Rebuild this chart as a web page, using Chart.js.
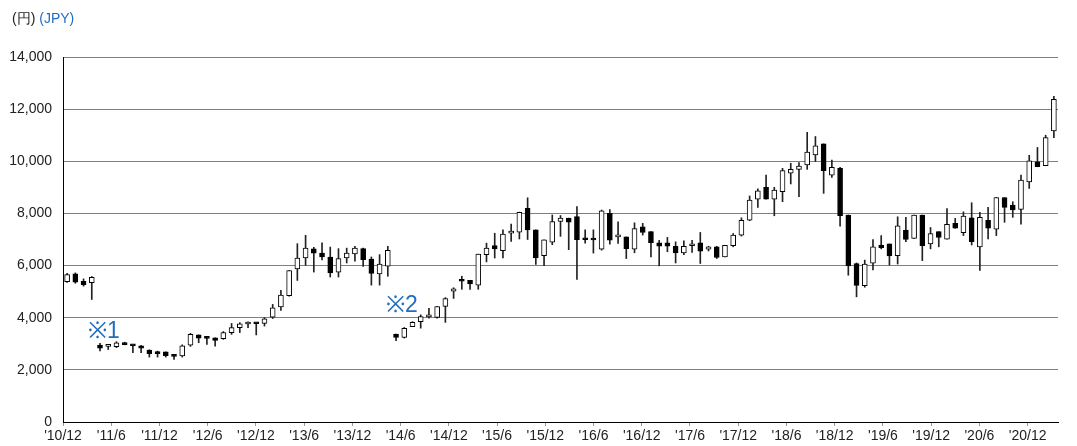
<!DOCTYPE html>
<html>
<head>
<meta charset="utf-8">
<script src="https://cdn.jsdelivr.net/npm/chart.js@4/dist/chart.umd.min.js"></script>
<style>
  body { margin: 0; background: #fff; font-family: "Liberation Sans", Arial, sans-serif; }
  #wrap { position: relative; width: 1077px; height: 446px; }
  .unit { position: absolute; left: 12px; top: 10px; font-size: 14px; color: #222; }
  .unit span { color: #1f6ec1; }
  .note { position: absolute; color: #1f6ec1; font-size: 23px; line-height: 26px; }
</style>
</head>
<body>
<div id="wrap">
  <canvas id="chart" width="1077" height="446"></canvas>
  <div class="unit">(円) <span>(JPY)</span></div>
  <div class="note" style="left:88px;top:317px">※1</div>
  <div class="note" style="left:386px;top:291px">※2</div>
</div>
<script>
// 月足 '10/12 〜 '20/12
const startYear = 2010, startMonth = 12;
const openV  = [5380,5680,5400,5340,2950,2900,2890,3040,2960,2920,2760,2640,2690,2590,2530,2950,3340,3260,3230,3200,
                3430,3620,3760,3790,3780,4020,4410,4850,5870,6290,6640,6480,6330,5750,6290,6450,6650,6250,5680,5975,
                3370,3240,3660,3850,4030,4010,4430,5020,5450,5430,5250,6420,6770,6570,7245,7280,8200,7370,6380,6900,
                7690,7820,7880,7010,7000,6630,8000,7100,7100,6630,7490,7300,6870,6870,6740,6490,6760,6870,6630,6720,
                6330,6760,7170,7740,8550,9000,8550,8830,9540,9690,9860,10240,10670,9470,9730,7940,6080,5230,6090,6790,
                6830,6380,7360,7040,7940,6830,7300,7010,7620,7260,7830,6720,7740,7400,8610,8320,8150,9210,9980,9830,
                11160];
const highV  = [5700,5720,5490,5580,3020,2980,3080,3060,2960,2940,2770,2720,2690,2590,2960,3400,3340,3280,3230,3470,
                3780,3810,3840,3810,4000,4510,5050,5810,6840,7160,6700,6870,6710,6650,6670,6740,6670,6330,6420,6740,
                3370,3625,3850,4110,4360,4430,4770,5150,5590,5430,6440,6860,7240,7370,7590,8050,8600,7370,6990,7940,
                7920,7820,8260,7370,7370,8130,8150,7680,7100,7640,7620,7300,6970,7080,6910,6950,6970,7270,6740,6740,
                6780,7230,7830,8670,8940,9470,9000,9730,9920,9950,11110,10950,10670,10050,9770,7940,6100,6210,7000,7150,
                6830,7870,7850,7940,7940,7460,7300,8190,7810,8060,8410,8040,8230,8610,8610,8450,9470,10230,10530,11000,
                12490];
const lowV   = [5350,5320,5210,4700,2730,2780,2850,2960,2660,2660,2490,2490,2490,2400,2490,2900,3040,2980,2910,3170,
                3360,3430,3620,3340,3680,3970,4280,4830,5430,6010,5750,6220,5560,5560,6100,6170,5970,5250,5250,5590,
                3120,3220,3660,3600,3980,3980,3820,4740,5090,5090,5090,6140,6290,6290,6930,7020,7000,6040,6000,6800,
                7120,6610,5470,6860,6480,6590,6820,6850,6270,6490,7170,6330,5990,6530,6100,6420,6500,6080,6560,6270,
                6330,6720,7130,7720,8230,8550,7910,8450,9130,8640,9690,9990,8770,9380,7510,5630,4800,5170,5830,6640,
                6020,6060,6920,7040,6190,6640,6720,7010,7430,7150,6790,5810,7020,7150,7660,7850,7590,8960,9790,9830,
                10910];
const closeV = [5650,5360,5270,5550,2830,2930,3040,2970,2920,2830,2620,2620,2540,2520,2920,3360,3220,3210,3130,3430,
                3620,3770,3790,3770,3960,4380,4870,5810,6290,6675,6480,6330,5720,6270,6480,6670,6230,5700,6060,6580,
                3240,3590,3820,4040,4040,4430,4730,5110,5400,5300,6440,6670,6640,7210,7310,8045,7370,6290,6990,7690,
                7820,7660,6990,6990,6980,8100,6970,7160,6650,7420,7270,6880,6740,6740,6490,6740,6790,6550,6720,6310,
                6780,7170,7740,8510,8870,8550,8900,9640,9690,9820,10350,10590,9640,9770,7910,5990,5240,6060,6720,6690,
                6370,7520,7000,7940,6760,7230,7080,7580,7430,7900,6920,7850,7430,8610,8230,8130,9280,10020,9790,10910,
                12380];
const tickLabels = ["'10/12","'11/6","'11/12","'12/6","'12/12","'13/6","'13/12","'14/6","'14/12","'15/6","'15/12",
                    "'16/6","'16/12","'17/6","'17/12","'18/6","'18/12","'19/6","'19/12","'20/6","'20/12"];

const months = [];
for (let i = 0; i < openV.length; i++) {
  const m = startMonth - 1 + i;
  const y = startYear + Math.floor(m / 12);
  months.push(String(y).slice(2) + '/' + (m % 12 + 1));
}

const wicks = lowV.map((l, i) => [l, highV[i]]);
const bodies = openV.map((o, i) => [Math.min(o, closeV[i]), Math.max(o, closeV[i])]);
const bodyColors = openV.map((o, i) => closeV[i] >= o ? '#ffffff' : '#000000');

new Chart(document.getElementById('chart'), {
  type: 'bar',
  data: {
    labels: months,
    datasets: [
      {
        label: 'body',
        data: bodies,
        xAxisID: 'x',
        grouped: false,
        order: 0,
        barThickness: 5,
        minBarLength: 2,
        backgroundColor: bodyColors,
        borderColor: '#000',
        borderWidth: 1,
        borderSkipped: false
      },
      {
        label: 'wick',
        data: wicks,
        xAxisID: 'x',
        grouped: false,
        order: 1,
        barThickness: 1,
        backgroundColor: '#222'
      }
    ]
  },
  options: {
    responsive: false,
    animation: false,
    layout: { padding: { top: 57, right: 19, left: 0, bottom: 0 } },
    plugins: { legend: { display: false }, tooltip: { enabled: false } },
    scales: {
      x: { type: 'category', display: false, offset: true },
      xt: {
        type: 'linear',
        position: 'bottom',
        offset: false,
        min: 0,
        max: 20.63,
        afterBuildTicks: function (scale) {
          scale.ticks = tickLabels.map((t, i) => ({ value: i }));
        },
        afterFit: function (scale) { scale.height = 24; },
        grid: { offset: false, drawOnChartArea: false, tickLength: 4, tickColor: '#999' },
        border: { color: '#000', width: 1 },
        ticks: {
          autoSkip: false,
          maxRotation: 0,
          padding: 2,
          color: '#222',
          font: { family: 'Liberation Sans', size: 14 },
          callback: function (v) { return tickLabels[v]; }
        }
      },
      y: {
        min: 0,
        max: 14000,
        afterFit: function (scale) { scale.width = 63; },
        grid: { color: '#808080', lineWidth: 1, drawTicks: false },
        border: { color: '#000', width: 1 },
        ticks: {
          stepSize: 2000,
          padding: 11,
          color: '#222',
          font: { family: 'Liberation Sans', size: 14 },
          callback: function (v) { return v.toLocaleString('en-US'); }
        }
      }
    }
  }
});
</script>
</body>
</html>
